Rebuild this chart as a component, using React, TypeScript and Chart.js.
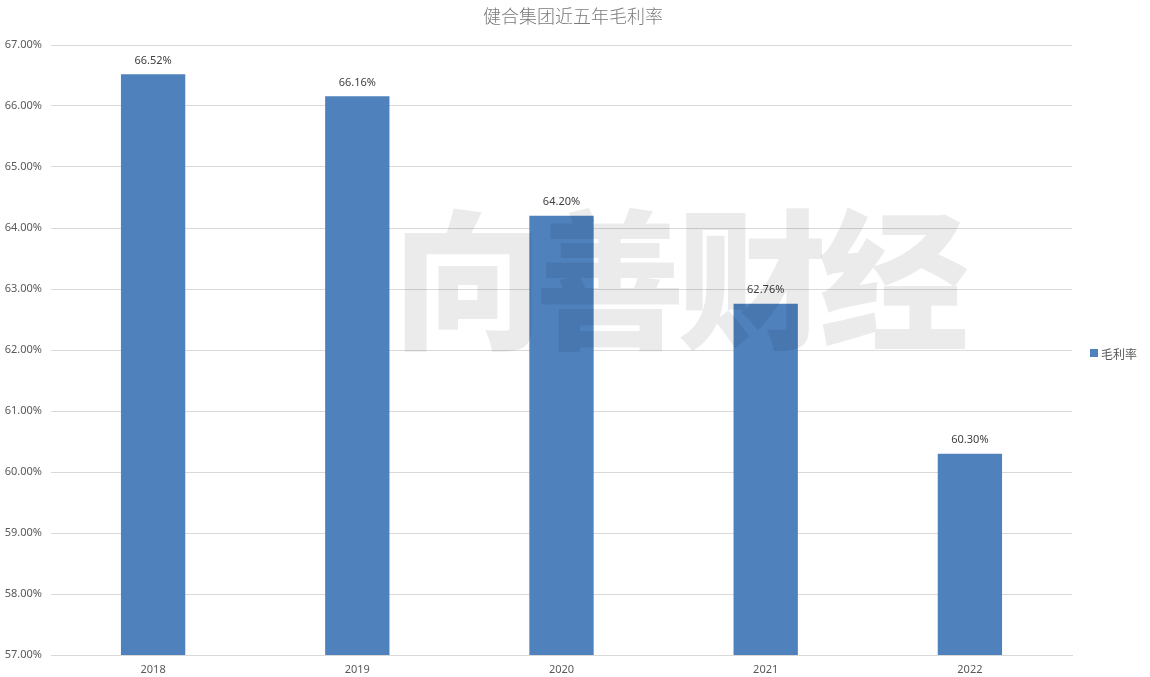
import React, { useEffect, useRef } from "react";
import { Chart, registerables } from "chart.js";

Chart.register(...registerables);

const titleText = "健合集团近五年毛利率";
const categories = ["2018", "2019", "2020", "2021", "2022"];
const seriesName = "毛利率";
const grossMargin = [66.52, 66.16, 64.2, 62.76, 60.3];
const yMin = 57;
const yMax = 67;
const yStep = 1;
const watermark = "向善财经";

const BAR_COLOR = "#4F81BD";
const TEXT_COLOR = "#595959";
const FONT = "'Noto Sans', 'Liberation Sans', 'Noto Sans CJK SC', sans-serif";

const overlayPlugin = {
  id: "overlay",
  afterDatasetsDraw(chart: any) {
    const ctx = chart.ctx;
    const meta = chart.getDatasetMeta(0);
    ctx.save();
    ctx.font = `11px ${FONT}`;
    ctx.fillStyle = "#404040";
    ctx.textAlign = "center";
    ctx.textBaseline = "bottom";
    meta.data.forEach((bar: any, i: number) => {
      ctx.fillText(grossMargin[i].toFixed(2) + "%", bar.x, bar.y - 8);
    });
    ctx.restore();
  },
  afterDraw(chart: any) {
    const ctx = chart.ctx;
    ctx.save();
    // title
    ctx.font = `300 18px 'Noto Sans CJK SC', sans-serif`;
    ctx.fillStyle = "#7a7a7a";
    ctx.textAlign = "center";
    ctx.textBaseline = "middle";
    ctx.fillText(titleText, 573, 16);
    // legend
    ctx.fillStyle = BAR_COLOR;
    ctx.fillRect(1090, 349, 8, 8);
    ctx.font = `12px 'Noto Sans CJK SC', sans-serif`;
    ctx.fillStyle = TEXT_COLOR;
    ctx.textAlign = "left";
    ctx.textBaseline = "middle";
    ctx.fillText(seriesName, 1101, 354);
    // watermark
    ctx.font = `900 150px 'Noto Sans CJK SC', sans-serif`;
    ctx.fillStyle = "rgba(0,0,0,0.08)";
    ctx.textAlign = "center";
    ctx.textBaseline = "middle";
    const cx = [468, 610, 752, 894];
    Array.from(watermark).forEach((c, i) => ctx.fillText(c, cx[i], 280));
    ctx.restore();
  },
};

export default function App() {
  const ref = useRef<HTMLCanvasElement>(null);
  useEffect(() => {
    document.body.style.margin = "0";
    const chart = new Chart(ref.current!, {
      type: "bar",
      data: {
        labels: categories,
        datasets: [
          {
            label: seriesName,
            data: grossMargin,
            backgroundColor: BAR_COLOR,
            barPercentage: 0.63,
            categoryPercentage: 0.5,
          },
        ],
      },
      options: {
        animation: false,
        responsive: false,
        layout: { padding: { top: 45, right: 78, left: 0, bottom: 0 } },
        plugins: {
          legend: { display: false },
          title: { display: false },
          tooltip: { enabled: false },
        },
        scales: {
          x: {
            grid: { display: false, drawTicks: false },
            border: { display: true, color: "#d9d9d9" },
            ticks: { color: TEXT_COLOR, font: { size: 11, family: FONT }, padding: 8 },
            afterFit(scale: any) {
              scale.height = 22;
            },
          },
          y: {
            min: yMin,
            max: yMax,
            grid: { color: "#d9d9d9", drawTicks: false },
            border: { display: false },
            ticks: {
              stepSize: yStep,
              color: TEXT_COLOR,
              font: { size: 11, family: FONT },
              padding: 9,
              callback: (v: any) => Number(v).toFixed(2) + "%",
            },
            afterFit(scale: any) {
              scale.width = 51;
            },
          },
        },
      },
      plugins: [overlayPlugin],
    });
    return () => chart.destroy();
  }, []);
  return (
    <div style={{ position: "absolute", left: 0, top: 0, width: 1150, height: 677 }}>
      <canvas ref={ref} width={1150} height={677} style={{ width: 1150, height: 677 }} />
    </div>
  );
}
